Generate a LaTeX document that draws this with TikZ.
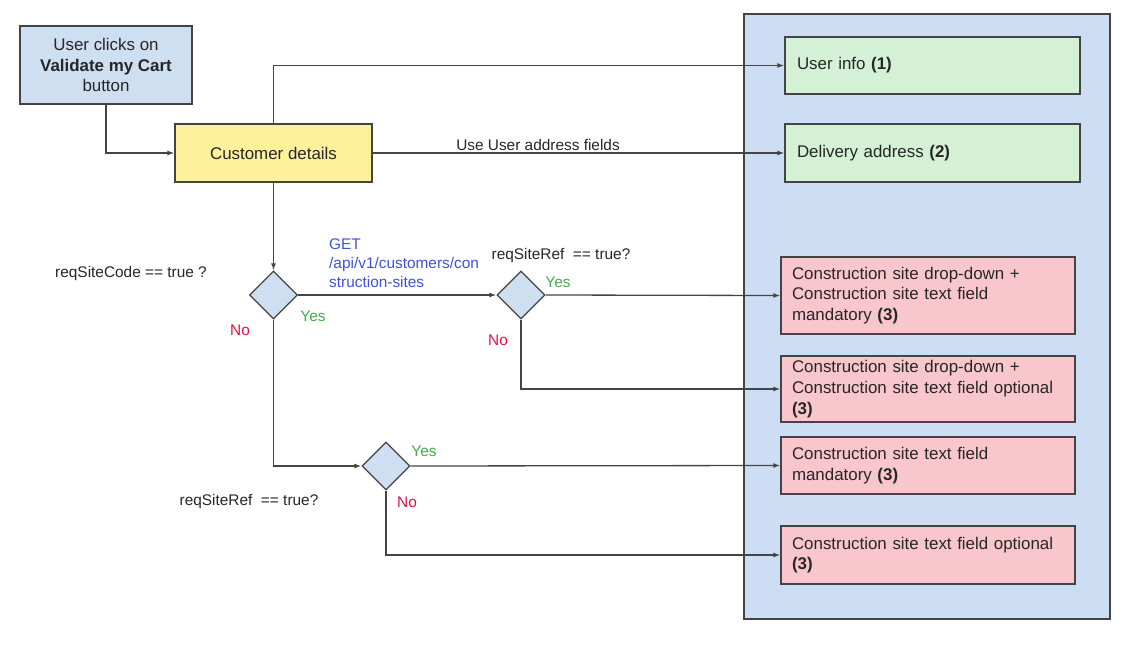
\documentclass[tikz,border=0pt]{standalone}
\usepackage{fontspec}
\setmainfont{Liberation Sans}
\usetikzlibrary{shapes.geometric,arrows.meta}
\definecolor{lineC}{HTML}{444444}
\definecolor{boxblue}{HTML}{CFDFF2}
\definecolor{contblue}{HTML}{CDDEF4}
\definecolor{yel}{HTML}{FDF19C}
\definecolor{grn}{HTML}{D4F1D5}
\definecolor{pink}{HTML}{F9C6CD}
\definecolor{yesC}{HTML}{47A84C}
\definecolor{noC}{HTML}{E8103F}
\definecolor{getC}{HTML}{3F51D8}
\tikzset{
  box/.style={draw=lineC, line width=1.3pt, rectangle, inner sep=0pt},
  bigtxt/.style={font=\fontsize{16.9}{20.7}\selectfont, text=black!85},
  lbl/.style={font=\fontsize{15.4}{19}\selectfont, inner sep=0pt},
  targetbox/.style={box, bigtxt, align=left, inner xsep=11pt, text width=272pt},
  dia/.style={draw=lineC, line width=1.3pt, diamond, fill=boxblue, inner sep=0pt, minimum width=48pt, minimum height=48pt},
  arr/.style={draw=lineC, line width=1.3pt, -{Latex[length=7pt,width=5pt]}}
}
\begin{document}
\begin{tikzpicture}[x=1pt,y=-1pt]
\useasboundingbox (0,0) rectangle (1134,647);
% container
\node[box, fill=contblue, minimum width=366pt, minimum height=605pt] (cont) at (927,316.5) {};
% start
\node[box, fill=boxblue, bigtxt, align=center, minimum width=172pt, minimum height=78pt] (start) at (106,65)
  {User clicks on\\\textbf{Validate my Cart}\\button};
\node[box, fill=yel, bigtxt, minimum width=197pt, minimum height=58pt] (cust) at (273.5,153) {Customer details};
% targets
\node[targetbox, fill=grn, inner xsep=12pt, text width=271pt, minimum height=57pt] (ui) at (932.5,65.5) {User info \textbf{(1)}};
\node[targetbox, fill=grn, inner xsep=12pt, text width=271pt, minimum height=58pt] (da) at (932.5,153) {Delivery address \textbf{(2)}};
\node[targetbox, fill=pink, minimum height=77pt] (r1) at (928,295.5) {Construction site drop-down +\\Construction site text field\\mandatory \textbf{(3)}};
\node[targetbox, fill=pink, minimum height=66pt] (r2) at (928,389) {Construction site drop-down +\\Construction site text field optional\\\textbf{(3)}};
\node[targetbox, fill=pink, minimum height=57pt] (r3) at (928,465.5) {Construction site text field\\mandatory \textbf{(3)}};
\node[targetbox, fill=pink, minimum height=58pt] (r4) at (928,555) {Construction site text field optional\\\textbf{(3)}};
% diamonds
\node[dia] (d1) at (273.5,295) {};
\node[dia] (d2) at (521,295) {};
\node[dia] (d3) at (386,466) {};
% connectors
\draw[arr] (start.south) |- (cust.west);
\draw[arr] (cust.north) |- (ui.west);
\draw[arr] (cust.east) -- (da.west);
\draw[arr] (cust.south) -- (d1.north);
\draw[arr] (d1.east) -- (d2.west);
\draw[arr] (d2.east) -- (r1.west);
\draw[arr] (d2.south) |- (r2.west);
\draw[arr] (d1.south) |- (d3.west);
\draw[arr] (d3.east) -- (r3.west);
\draw[arr] (d3.south) |- (r4.west);
% labels
\node[lbl, text=black!85] (addr) at (538,145) {Use User address fields};
\node[lbl, text=black!85] (q1) at (131,274) {reqSiteCode == true ?};
\node[lbl, text=getC, align=left, anchor=north west] (get) at (329,239) {GET\\/api/v1/customers/con\\struction-sites};
\node[lbl, text=yesC] (y1) at (313,316) {Yes};
\node[lbl, text=noC] (n1) at (240,330) {No};
\node[lbl, text=black!85] (q2) at (561,256) {reqSiteRef\ \ == true?};
\node[lbl, text=yesC] (y2) at (558,282) {Yes};
\node[lbl, text=noC] (n2) at (498,340) {No};
\node[lbl, text=black!85] (q3) at (249,502) {reqSiteRef\ \ == true?};
\node[lbl, text=yesC] (y3) at (424,451) {Yes};
\node[lbl, text=noC] (n3) at (407,502) {No};
\end{tikzpicture}
\end{document}
